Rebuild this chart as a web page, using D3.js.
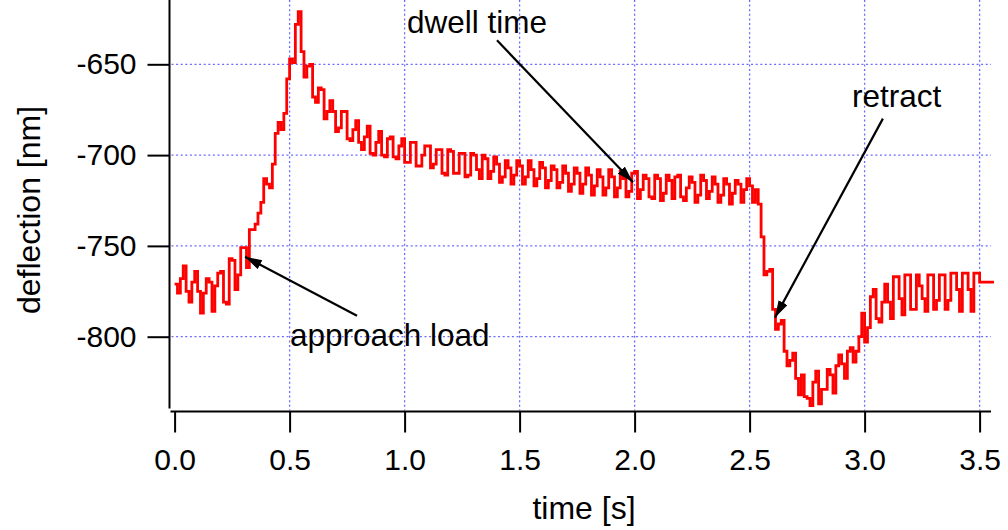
<!DOCTYPE html>
<html>
<head>
<meta charset="utf-8">
<script src="https://cdn.jsdelivr.net/npm/d3@7"></script>
<style>
  body { margin: 0; background: #fff; }
  svg { display: block; font-family: "Liberation Sans", Arial, sans-serif; }
  .axis text { font-size: 30px; fill: #000; }
  .axis line { stroke: #000; stroke-width: 2px; }
  .axis-line { stroke: #000; stroke-width: 2px; }
  .grid line { stroke: #6a6aff; stroke-width: 1.3px; stroke-dasharray: 2 2.6; }
  .axis-title { font-size: 32px; fill: #000; }
  .note { font-size: 31.5px; fill: #000; }
</style>
</head>
<body>
<svg id="chart"></svg>
<script>
// cantilever deflection trace, sampled every 12.5 ms
const sampleStep = 0.0125;
const deflection = [
  -771, -776, -768, -761, -775, -781, -770, -764, -775, -787,
  -776, -768, -770, -786, -772, -765, -764, -781, -782, -757,
  -758, -774, -766, -751, -751, -762, -741, -741, -738, -732,
  -726, -713, -716, -718, -705, -688, -682, -686, -677, -658,
  -647, -649, -628, -621, -643, -657, -651, -650, -668, -671,
  -663, -664, -680, -676, -670, -676, -687, -685, -676, -676,
  -691, -692, -686, -681, -693, -697, -690, -684, -699, -700,
  -693, -687, -700, -701, -691, -690, -701, -702, -695, -691,
  -704, -704, -693, -693, -706, -706, -700, -695, -695, -707,
  -705, -697, -697, -710, -711, -697, -698, -710, -710, -699,
  -699, -712, -711, -699, -700, -708, -713, -700, -702, -713,
  -709, -701, -705, -715, -712, -703, -707, -716, -711, -703,
  -706, -716, -712, -703, -708, -717, -713, -704, -707, -718,
  -714, -706, -708, -718, -715, -706, -710, -720, -716, -707,
  -710, -721, -716, -707, -711, -722, -717, -708, -712, -722,
  -718, -708, -712, -723, -718, -709, -713, -723, -720, -710,
  -709, -724, -719, -711, -713, -723, -724, -711, -713, -725,
  -721, -711, -714, -724, -712, -711, -723, -725, -718, -712,
  -715, -726, -722, -711, -714, -724, -720, -712, -716, -726,
  -722, -713, -716, -727, -721, -714, -716, -726, -719, -713,
  -717, -726, -719, -727, -745, -766, -764, -763, -785, -796,
  -793, -791, -808, -816, -813, -809, -823, -832, -821, -833,
  -834, -838, -825, -819, -837, -829, -829, -818, -821, -831,
  -816, -810, -815, -823, -808, -806, -814, -808, -800, -787,
  -803, -795, -778, -774, -790, -792, -781, -771, -781, -790,
  -767, -767, -779, -788, -766, -766, -785, -785, -766, -772,
  -779, -786, -766, -766, -785, -780, -766, -766, -785, -780,
  -765, -765, -774, -786, -765, -765, -774, -786, -765, -765,
  -770, -770, -770, -770, -770, -770
];

const xTicks = [0, 0.5, 1.0, 1.5, 2.0, 2.5, 3.0, 3.5];
const yTicks = [-800, -750, -700, -650];

// annotation texts and the point (time, deflection) each arrow points at
const noteLabels = ['approach load', 'dwell time', 'retract'];
const noteTime = [0.306, 1.993, 2.61];
const noteDeflection = [-756, -715, -789.5];

const width = 1008, height = 530;

const svg = d3.select('#chart')
    .attr('width', width)
    .attr('height', height);

svg.append('rect')
    .attr('width', width)
    .attr('height', height)
    .attr('fill', '#fff');

// scales
const xScale = d3.scaleLinear()
    .domain([0, 3.5])
    .range([174.6, 979.6]);

const yScale = d3.scaleLinear()
    .domain([-800, -650])
    .range([336.7, 64.3]);

const axisX = 169.5, axisY = 411.5;
const plotTop = 0, plotRight = 991;

// dotted grid
const grid = svg.append('g').attr('class', 'grid');
grid.selectAll('.vgrid')
    .data(xTicks.filter(d => d > 0))
  .join('line')
    .attr('class', 'vgrid')
    .attr('x1', d => xScale(d))
    .attr('x2', d => xScale(d))
    .attr('y1', plotTop)
    .attr('y2', axisY - 1);

grid.selectAll('.hgrid')
    .data(yTicks)
  .join('line')
    .attr('class', 'hgrid')
    .attr('x1', axisX + 2)
    .attr('x2', plotRight)
    .attr('y1', d => yScale(d))
    .attr('y2', d => yScale(d));

// the trace
const trace = d3.line()
    .x((d, i) => xScale(i * sampleStep))
    .y(d => yScale(d))
    .curve(d3.curveStepAfter);

svg.append('path')
    .datum(deflection)
    .attr('d', trace)
    .attr('fill', 'none')
    .attr('stroke', '#ff0000')
    .attr('stroke-width', 2.8)
    .attr('stroke-linejoin', 'miter');

// axes (plain hyphen for negatives, like the original)
const yAxis = d3.axisLeft(yScale)
    .tickValues(yTicks)
    .tickSize(22)
    .tickPadding(11)
    .tickFormat(d => String(d));

svg.append('g')
    .attr('class', 'axis y-axis')
    .attr('transform', `translate(${axisX},0)`)
    .call(yAxis)
    .call(g => g.select('.domain').remove());

const xAxis = d3.axisBottom(xScale)
    .tickValues(xTicks)
    .tickSize(21)
    .tickPadding(16)
    .tickFormat(d3.format('.1f'));

svg.append('g')
    .attr('class', 'axis x-axis')
    .attr('transform', `translate(0,${axisY})`)
    .call(xAxis)
    .call(g => g.select('.domain').remove());

svg.append('line')
    .attr('class', 'axis-line')
    .attr('x1', axisX).attr('x2', axisX)
    .attr('y1', plotTop).attr('y2', axisY - 3);

svg.append('line')
    .attr('class', 'axis-line')
    .attr('x1', axisX + 1).attr('x2', plotRight)
    .attr('y1', axisY).attr('y2', axisY);

// axis titles
svg.append('text')
    .attr('class', 'axis-title')
    .attr('x', 584)
    .attr('y', 519)
    .attr('text-anchor', 'middle')
    .text('time [s]');

svg.append('text')
    .attr('class', 'axis-title')
    .attr('transform', 'translate(40,210) rotate(-90)')
    .attr('text-anchor', 'middle')
    .text('deflection [nm]');

// arrows + labels
svg.append('defs').append('marker')
    .attr('id', 'head')
    .attr('markerUnits', 'userSpaceOnUse')
    .attr('markerWidth', 18)
    .attr('markerHeight', 12)
    .attr('refX', 17)
    .attr('refY', 5)
    .attr('orient', 'auto')
  .append('path')
    .attr('d', 'M0,0 L17,5 L0,10 Z')
    .attr('fill', '#000');

// tail offsets and text anchors in pixels, relative to the arrow tip
const noteLayout = [
  {tail: [112, 59], text: [45, 89]},
  {tail: [-136, -142], text: [-226, -149]},
  {tail: [108, -199], text: [77, -211]}
];

noteLabels.forEach((label, i) => {
  const tx = xScale(noteTime[i]), ty = yScale(noteDeflection[i]);
  const lay = noteLayout[i];
  svg.append('line')
      .attr('x1', tx + lay.tail[0])
      .attr('y1', ty + lay.tail[1])
      .attr('x2', tx)
      .attr('y2', ty)
      .attr('stroke', '#000')
      .attr('stroke-width', 2.2)
      .attr('marker-end', 'url(#head)');
  svg.append('text')
      .attr('class', 'note')
      .attr('x', tx + lay.text[0])
      .attr('y', ty + lay.text[1])
      .text(label);
});
</script>
</body>
</html>
